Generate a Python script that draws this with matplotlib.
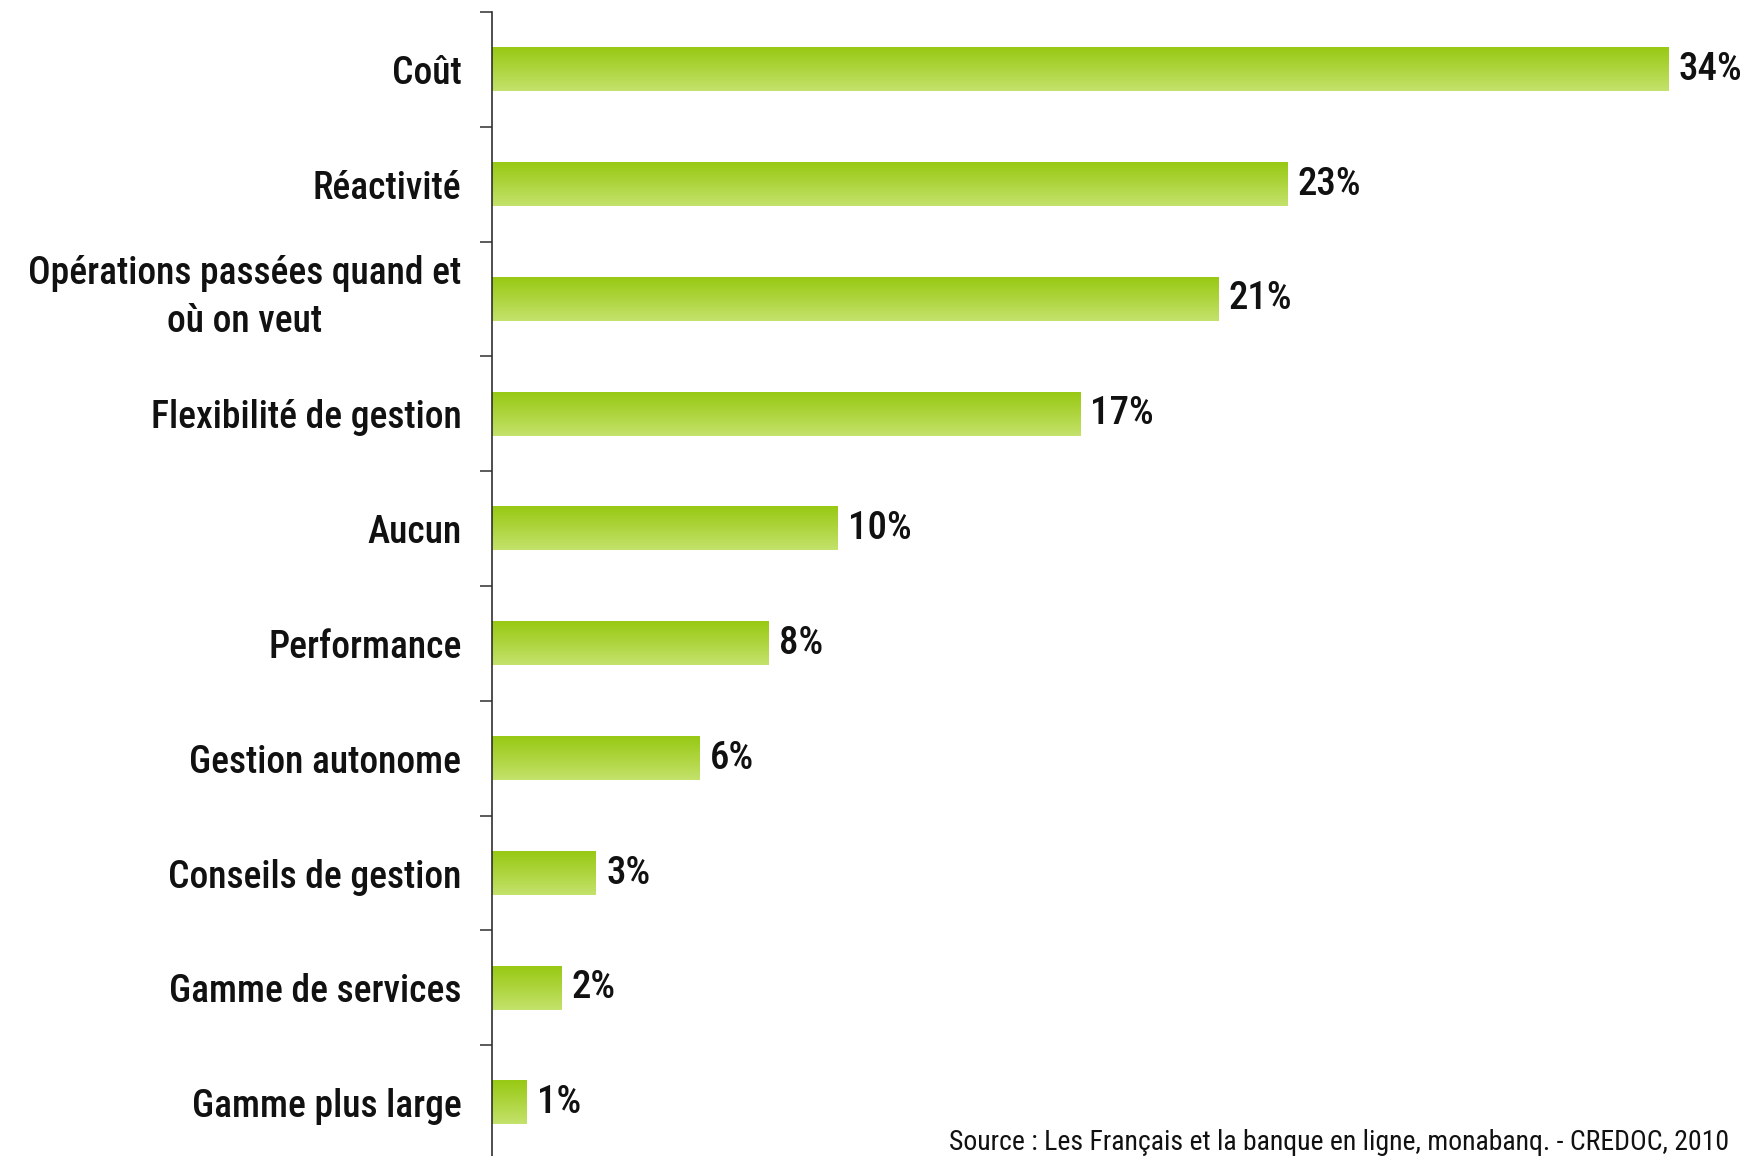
import numpy as np
import matplotlib.pyplot as plt
from matplotlib.colors import LinearSegmentedColormap
from matplotlib.transforms import ScaledTranslation

# Données du graphique
categories = ['Coût', 'Réactivité', 'Opérations passées quand et\noù on veut',
              'Flexibilité de gestion', 'Aucun', 'Performance', 'Gestion autonome',
              'Conseils de gestion', 'Gamme de services', 'Gamme plus large']
valeurs = [34, 23, 21, 17, 10, 8, 6, 3, 2, 1]
source = 'Source : Les Français et la banque en ligne, monabanq. - CREDOC, 2010'

# Police étroite, avec repli
plt.rcParams['font.family'] = ['Roboto Condensed', 'Liberation Sans', 'DejaVu Sans']

fig = plt.figure(figsize=(17.44, 11.56), dpi=100)
ax = fig.add_axes([492 / 1744, -4 / 1156, 1 - 492 / 1744, 1148 / 1156])

# Dégradé vertical vert foncé -> vert clair
degrade = LinearSegmentedColormap.from_list('vert', ['#98c914', '#aed53e', '#c4e26c'])
grad = np.linspace(0, 1, 64).reshape(-1, 1)
hauteur = 0.38

y = np.arange(len(categories))
for yi, v in zip(y, valeurs):
    ax.imshow(grad, cmap=degrade, aspect='auto', interpolation='bicubic',
              extent=(0, v, yi + hauteur / 2, yi - hauteur / 2), zorder=2)
    ax.text(v + 0.3, yi, f'{v}%', va='center', ha='left',
            fontsize=28, fontweight='medium', color='#111111')

ax.set_xlim(0, 34 * 1252 / 1176)
ax.set_ylim(len(categories) - 0.5, -0.5)

# Axe vertical seul, graduations entre les catégories
for s in ['top', 'right', 'bottom']:
    ax.spines[s].set_visible(False)
ax.spines['left'].set_color('#303030')
ax.spines['left'].set_linewidth(1.2)
ax.set_xticks([])
ax.set_yticks(y)
ax.set_yticklabels(categories, fontsize=27, fontweight='medium', color='#111111',
                   ha='right', multialignment='center', linespacing=1.38)
ax.tick_params(axis='y', which='major', length=0, pad=22)
ax.set_yticks(np.arange(-0.5, len(categories)), minor=True)
ax.tick_params(axis='y', which='minor', length=9, width=1.2, color='#404040', direction='out')

# Libellé sur deux lignes légèrement remonté
lab = ax.get_yticklabels()[2]
lab.set_transform(lab.get_transform() + ScaledTranslation(0, 8 / 72, fig.dpi_scale_trans))

fig.text(1729 / 1744, 1 - 1142 / 1156, source, ha='right', va='center',
         fontsize=20, color='#111111')

fig.savefig('out.png', dpi=100)
